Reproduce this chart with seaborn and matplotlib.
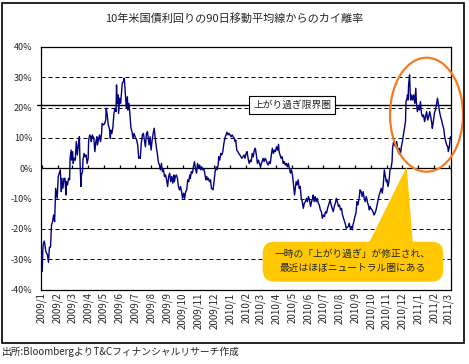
import matplotlib
matplotlib.use("Agg")
import matplotlib.dates as mdates
import numpy as np
import pandas as pd
import seaborn as sns
from matplotlib import pyplot as plt
from matplotlib.patches import Ellipse, FancyBboxPatch, Polygon, Rectangle

TITLE = "10年米国債利回りの90日移動平均線からのカイ離率"
SOURCE = "出所:BloombergよりT&Cフィナンシャルリサーチ作成"
LIMIT_LABEL = "上がり過ぎ限界圏"
CALLOUT_LINES = ["一時の「上がり過ぎ」が修正され、", "最近はほぼニュートラル圏にある"]

START_DATE = "2009-01-01"

# days since START_DATE
day_offsets = [
    1, 2, 3, 5, 6, 8, 11, 13, 15, 17, 19, 21, 23, 25, 27, 28, 30, 32, 34, 36,
    38, 39, 41, 43, 45, 47, 48, 50, 52, 54, 55, 57, 58, 60, 61, 63, 65, 67, 69, 71,
    73, 74, 76, 77, 79, 80, 82, 84, 86, 88, 90, 91, 93, 95, 96, 98, 101, 103, 105, 107,
    108, 110, 112, 114, 116, 117, 120, 122, 124, 125, 127, 129, 131, 133, 134, 136, 138, 140, 142, 144,
    145, 146, 148, 149, 151, 153, 155, 156, 158, 160, 162, 164, 166, 167, 169, 171, 173, 175, 177, 179,
    181, 184, 186, 188, 190, 191, 193, 195, 197, 199, 201, 203, 205,
    208, 210, 212, 214, 216, 218, 220, 222, 224, 226, 228, 230, 232, 234, 236, 238, 240, 242, 244, 246,
    248, 250, 252, 254, 256, 257, 259, 261, 263, 265, 267, 269, 271, 273, 275, 277, 279, 281, 283, 285,
    287, 288, 290, 292, 294, 296, 298, 300, 302, 304, 306, 308, 310, 312, 314, 316, 318, 320, 321, 323,
    325, 327, 329, 332, 334, 336, 338, 340, 342, 343, 345, 347, 349, 351, 353, 355, 357, 359, 361, 363,
    365, 367, 369, 371, 373, 375, 376, 378, 380, 382, 384, 386, 388, 390, 392, 394, 396, 398, 400, 402,
    404,
    406, 408, 410, 412, 414, 416, 418, 420, 422, 424, 426, 428, 429, 431, 433, 435, 437, 439, 441, 443,
    445, 447, 449, 451, 453, 455, 457, 459, 460, 462, 464, 466, 468, 470, 472, 474, 476, 478, 480, 482,
    484, 486, 488, 490, 492, 493, 495, 497, 499, 501, 503, 505, 507, 509, 511, 513, 515, 517, 519, 521,
    523, 525, 526, 528, 530, 532, 534, 536, 538, 540, 542, 544, 546, 548, 550, 552, 554, 556, 558, 559,
    561, 563, 565, 567, 569, 571, 573, 575, 577, 579, 581, 583, 585, 587, 589, 590,
    594, 596, 598, 600, 602, 603, 605, 607, 609, 611, 613, 615, 617, 619, 621, 623, 625, 627, 629, 631,
    633, 635, 636, 638, 640, 642, 644, 646, 648, 650, 652, 654, 656, 658, 660, 662, 664, 666, 668, 669,
    671, 673, 675, 677, 679, 680, 682, 684, 686, 688, 690, 692, 693, 695, 697, 699, 701, 703, 705, 706,
    708, 709, 710, 711, 713, 714, 715, 717, 719, 721, 723, 725, 726, 728, 730, 732, 734, 736, 738, 740,
    742, 744, 746, 748, 750, 752, 754, 756, 757, 759, 761, 763, 765, 767, 769, 771, 773, 775, 777, 779,
    781, 783, 785, 787, 788, 790, 792,
]

deviation_pct = [
    -34.0, -27.5, -25.0, -24.0, -25.0, -27.5, -28.5, -31.0, -26.0, -26.0, -18.7, -17.6, -15.4, -17.6, -6.6, -7.7, -9.9, -2.7, -1.6, -0.5,
    -7.7, -3.3, -6.6, -3.3, -3.3, -8.8, -4.4, -5.5, -3.3, -3.8, 3.3, 6.0, 2.7, 5.5, 1.6, 3.3, 2.7, 8.8, 4.4, 7.7,
    10.4, 3.3, -6.0, -2.2, -1.1, 2.7, 4.9, 3.8, 4.4, 1.6, 3.3, 9.3, 11.0, 10.4, 8.8, 11.0, 9.9, 5.5, 8.8, 10.4,
    7.7, 9.3, 11.0, 8.8, 11.5, 14.8, 14.3, 14.8, 15.9, 19.8, 17.6, 14.3, 13.2, 9.9, 12.6, 11.5, 13.7, 18.1, 19.8, 18.7,
    27.5, 21.4, 24.2, 18.1, 23.1, 21.4, 25.8, 28.0, 28.6, 29.7, 24.7, 19.8, 23.6, 19.2, 21.4, 17.6, 13.2, 12.1, 9.9, 11.5,
    10.4, 9.3, 7.7, 3.3, 3.8, 3.3, 8.2, 11.0, 11.5, 9.3, 7.1, 11.5, 12.1,
    7.7, 10.4, 6.0, 9.3, 11.5, 13.2, 9.9, 7.1, 4.9, 2.2, 1.1, -0.5, 1.6, -1.1, -0.5, -2.7, -2.2, -3.8, -6.0, -2.7,
    -1.6, -4.4, -2.7, -4.9, -2.2, -4.4, -2.7, -2.2, -3.3, -6.0, -7.1, -6.0, -7.7, -9.9, -8.2, -9.9, -7.7, -7.1, -3.8, -4.4,
    -2.2, -3.3, -1.1, -1.6, 0.5, 2.2, 0.0, -1.6, 1.6, 0.0, 1.1, -0.5, 0.5, -0.5, 0.0, -1.6, -3.8, -2.7, -3.8, -3.3,
    -4.4, -3.8, -6.6, -7.1, -4.4, -1.1, 0.5, -0.5, 1.1, 3.8, 2.7, 4.9, 4.4, 5.5, 8.2, 9.9, 11.0, 11.9, 11.0, 11.5,
    11.0, 10.4, 11.0, 10.4, 9.9, 8.8, 9.3, 6.0, 5.5, 4.9, 4.4, 3.8, 3.3, 3.8, 4.4, 3.3, 4.9, 5.5, 3.3, 1.6,
    2.7,
    2.2, 4.9, 3.8, 6.0, 6.6, 4.4, 1.6, 2.7, 1.6, 0.5, 1.6, 2.7, 3.3, 2.2, 3.3, 2.7, 1.6, 1.1, 2.2, 1.6,
    4.4, 6.6, 4.9, 6.0, 5.5, 7.1, 6.0, 7.9, 5.5, 4.4, 3.3, 3.8, 1.6, 2.2, 1.1, 1.6, 0.5, 1.6, 0.0, -1.6,
    -0.5, -2.2, -5.5, -8.8, -6.0, -4.4, -5.5, -3.8, -6.6, -6.0, -9.9, -11.0, -13.2, -11.5, -11.0, -9.9, -11.0, -9.3, -10.4, -12.6,
    -11.0, -9.9, -8.8, -11.0, -9.3, -11.0, -9.9, -11.5, -12.1, -13.7, -14.3, -16.5, -15.4, -15.9, -14.3, -14.8, -13.2, -12.1, -11.0, -10.4,
    -12.1, -13.2, -14.3, -12.6, -11.5, -9.9, -11.0, -12.6, -12.1, -13.7, -13.2, -15.4, -16.5, -17.6, -18.7, -19.8,
    -19.2, -18.1, -19.8, -19.2, -20.3, -18.7, -17.6, -15.9, -14.8, -11.0, -12.1, -9.9, -7.1, -7.7, -9.3, -7.7, -9.9, -11.0, -9.3, -11.0,
    -12.1, -13.7, -12.6, -13.2, -13.7, -14.3, -15.4, -14.8, -13.7, -12.1, -10.4, -8.8, -7.7, -6.6, -8.2, -5.5, -0.5, -2.7, -4.4, -3.8,
    -6.0, -4.4, -0.5, 0.0, 2.2, 6.6, 8.8, 7.7, 7.1, 8.8, 6.0, 4.9, 6.6, 4.4, 7.1, 8.8, 11.0, 13.2, 15.4, 22.0,
    23.1, 24.2, 22.5, 27.5, 30.8, 25.3, 22.5, 24.2, 22.5, 24.2, 21.4, 26.4, 22.0, 18.7, 20.3, 19.2, 22.0, 18.1, 17.0, 17.6,
    15.4, 17.0, 18.7, 15.9, 17.0, 18.7, 17.0, 14.8, 13.2, 15.4, 18.1, 19.2, 20.9, 23.1, 20.9, 18.7, 17.0, 15.9, 14.3, 13.2,
    10.4, 8.8, 7.7, 7.1, 5.5, 7.1, 10.4,
]

month_labels = [
    "2009/1", "2009/2", "2009/3", "2009/4", "2009/5", "2009/6", "2009/7", "2009/8", "2009/9",
    "2009/10", "2009/11", "2009/12", "2010/1", "2010/2", "2010/3", "2010/4", "2010/5", "2010/6",
    "2010/7", "2010/8", "2010/9", "2010/10", "2010/11", "2010/12", "2011/1", "2011/2", "2011/3",
]
y_ticks = [-40, -30, -20, -10, 0, 10, 20, 30, 40]
limit_level = 21

LINE_COLOR = "#000080"
ORANGE = "#F47B20"
YELLOW = "#FFC800"

sns.set_theme(style="white")
plt.rcParams["font.family"] = ["Noto Sans CJK JP", "DejaVu Sans"]

dates = pd.Timestamp(START_DATE) + pd.to_timedelta(day_offsets, unit="D")
df = pd.DataFrame({"date": dates, "deviation": deviation_pct})

fig = plt.figure(figsize=(4.69, 3.64), dpi=100)
fig.patch.set_facecolor("white")
ax = fig.add_axes([0.0874, 0.2044, 0.8736, 0.6665])

# grid and reference lines
for level in y_ticks[1:-1]:
    if level != 0:
        ax.axhline(level, color="black", lw=0.72, ls=(0, (4, 3)), zorder=1)
ax.axhline(0, color="black", lw=0.9, zorder=2)
ax.axhline(limit_level, xmin=-0.01, xmax=1, color="black", lw=1.0,
           clip_on=False, zorder=2)

tick_dates = pd.to_datetime([m + "/1" for m in month_labels], format="%Y/%m/%d")
# small month ticks pointing up from the zero line
ax.vlines(mdates.date2num(tick_dates), 0, 1.1, color="black", lw=0.9, zorder=2)

sns.lineplot(data=df, x="date", y="deviation", ax=ax, color=LINE_COLOR,
             lw=1.0, estimator=None, sort=False, zorder=3)

ax.set_xlim(pd.Timestamp("2008-12-30 14:00"), pd.Timestamp("2011-03-04 16:00"))
ax.set_ylim(-40, 40)

ax.set_xticks(mdates.date2num(tick_dates))
ax.set_xticklabels(month_labels, rotation=90, fontsize=7)
ax.tick_params(axis="x", length=0, pad=2)
ax.set_yticks(y_ticks)
ax.set_yticklabels([f"{v}%" for v in y_ticks], fontsize=6.5)
ax.tick_params(axis="y", length=0, pad=6)
ax.set_xlabel("")
ax.set_ylabel("")
for spine in ax.spines.values():
    spine.set_color("black")
    spine.set_linewidth(0.9)

ax.text(0.613, limit_level, LIMIT_LABEL, transform=ax.get_yaxis_transform(),
        ha="center", va="center", fontsize=7, zorder=5,
        bbox=dict(boxstyle="square,pad=0.4", fc="white", ec="black", lw=0.8))

# orange ellipse around the recent spike
ax.add_patch(Ellipse((4.265, 2.493), 0.73, 1.14, transform=fig.dpi_scale_trans,
                     fill=False, ec=ORANGE, lw=1.6, clip_on=False, zorder=6))

# callout
ax.add_patch(Polygon([(3.68, 1.19), (4.13, 1.19), (4.067, 1.973)], closed=True,
                     transform=fig.dpi_scale_trans, fc=YELLOW, ec="none",
                     clip_on=False, zorder=6))
ax.add_patch(FancyBboxPatch((2.627, 0.823), 1.806, 0.40,
                            boxstyle="round,pad=0,rounding_size=0.12",
                            transform=fig.dpi_scale_trans, fc=YELLOW, ec="none",
                            clip_on=False, zorder=6))
ax.text(0.7516, 1 - 254 / 364, CALLOUT_LINES[0], transform=fig.transFigure,
        ha="center", va="center", fontsize=7, zorder=7)
ax.text(0.7516, 1 - 268 / 364, CALLOUT_LINES[1], transform=fig.transFigure,
        ha="center", va="center", fontsize=7, zorder=7)

fig.text(0.5, 0.9505, TITLE, ha="center", va="center", fontsize=8)
fig.text(0.004, 0.033, SOURCE, ha="left", va="center", fontsize=7)
fig.add_artist(Rectangle((0.02, 0.21), 4.62, 3.40, transform=fig.dpi_scale_trans,
                         fill=False, ec="black", lw=1.2))

fig.savefig("out.png", dpi=100)
